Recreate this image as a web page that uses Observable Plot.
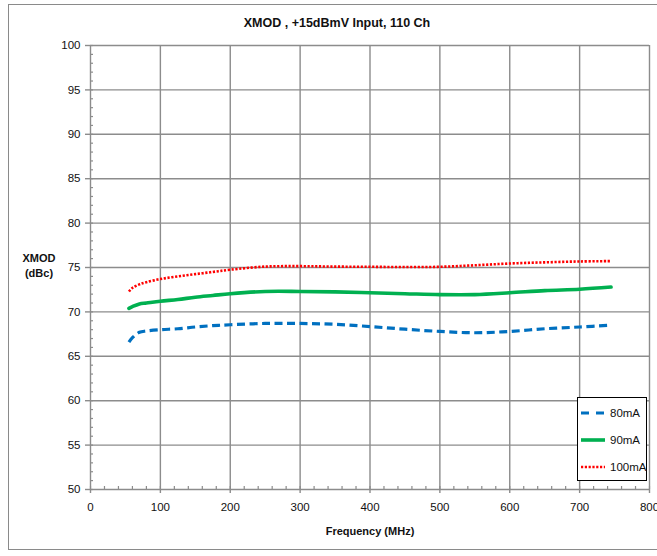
<!DOCTYPE html>
<html><head><meta charset="utf-8">
<script src="https://cdn.jsdelivr.net/npm/d3@7"></script>
<script src="https://cdn.jsdelivr.net/npm/@observablehq/plot@0.6"></script>
<style>
body{margin:0;background:#fff;font-family:"Liberation Sans Narrow","Liberation Sans",Arial,sans-serif;}
#wrap{position:relative;width:657px;height:556px;overflow:hidden;}
#frame{position:absolute;left:8px;top:4px;width:660px;height:546px;border:1.5px solid #8a8a8a;box-sizing:border-box;}
#title{position:absolute;left:0;width:674px;top:16px;text-align:center;font-weight:bold;font-size:12.5px;color:#111;}
#ylab{position:absolute;left:20px;width:38px;top:251px;text-align:center;font-weight:bold;font-size:11px;line-height:15px;color:#111;}
#xlab{position:absolute;left:90px;width:560px;top:525px;text-align:center;font-weight:bold;font-size:11px;color:#111;}
#chart{position:absolute;left:0;top:0;}
#legend{position:absolute;left:577px;top:397px;width:70px;height:84px;border:1.5px solid #000;background:#fff;box-sizing:border-box;}
.li{position:absolute;left:0;font-size:11.5px;color:#111;}
.li svg{position:absolute;left:2px;top:0;}
.li span{position:absolute;left:32px;top:1px;}
</style></head>
<body>
<div id="wrap">
  <div id="frame"></div>
  <div id="chart"></div>
  <div id="title">XMOD , +15dBmV Input, 110 Ch</div>
  <div id="ylab">XMOD<br>(dBc)</div>
  <div id="xlab">Frequency (MHz)</div>
  <div id="legend"></div>
</div>
<script>
const freq = [55, 60, 70, 80, 100, 125, 150, 175, 200, 250, 300, 350, 400, 450, 500, 550, 600, 650, 700, 745];
const mA80 = [66.6, 67.1, 67.7, 67.85, 68.0, 68.1, 68.3, 68.45, 68.55, 68.7, 68.7, 68.6, 68.35, 68.05, 67.8, 67.65, 67.8, 68.1, 68.3, 68.5];
const mA90 = [70.4, 70.6, 70.9, 71.0, 71.2, 71.4, 71.65, 71.85, 72.05, 72.3, 72.3, 72.25, 72.15, 72.05, 71.95, 71.95, 72.15, 72.4, 72.55, 72.8];
const mA100 = [72.3, 72.7, 73.1, 73.35, 73.7, 74.0, 74.25, 74.5, 74.75, 75.1, 75.15, 75.1, 75.08, 75.05, 75.08, 75.25, 75.45, 75.58, 75.68, 75.72];
const seriesNames = ["80mA", "90mA", "100mA"];
const xTicks = [0, 100, 200, 300, 400, 500, 600, 700, 800];
const yTicks = [50, 55, 60, 65, 70, 75, 80, 85, 90, 95, 100];

const colors = {"80mA": "#0070C0", "90mA": "#00B050", "100mA": "#FF0000"};
const styles = {
  "80mA": {strokeWidth: 3.2, strokeDasharray: "8,4.5", strokeLinecap: "butt"},
  "90mA": {strokeWidth: 3.6, strokeLinecap: "round"},
  "100mA": {strokeWidth: 2.6, strokeDasharray: "2.2,1.6", strokeLinecap: "butt"}
};
const valuesBy = {"80mA": mA80, "90mA": mA90, "100mA": mA100};
const rows = name => freq.map((f, i) => ({f, v: valuesBy[name][i], s: name}));

const xMinor = d3.range(0, 801, 20);
const yMinor = d3.range(50, 101, 1);
const grid = "#8c8c8c";

const lineMarks = seriesNames.map(n => Plot.line(rows(n), {
  x: "f", y: "v", stroke: colors[n], curve: "catmull-rom", ...styles[n]
}));

const chart = Plot.plot({
  width: 657, height: 556,
  marginLeft: 90, marginRight: 8, marginTop: 45, marginBottom: 67,
  style: {fontFamily: '"Liberation Sans Narrow","Liberation Sans",Arial,sans-serif', fontSize: "11.5px", color: "#111", background: "transparent"},
  x: {domain: [0, 800], label: null},
  y: {domain: [50, 100], label: null},
  marks: [
    Plot.ruleX(xTicks, {stroke: grid, strokeWidth: 1.4}),
    Plot.ruleY(yTicks, {stroke: grid, strokeWidth: 1.4}),
    Plot.axisX({ticks: xMinor, tickSize: -3, text: null, stroke: grid, strokeWidth: 1.2}),
    Plot.axisY({ticks: yMinor, tickSize: -3, text: null, stroke: grid, strokeWidth: 1.2}),
    Plot.axisX({ticks: xTicks, tickSize: 4, tickPadding: 9, stroke: grid, strokeWidth: 1.4, label: null, tickFormat: d => String(d)}),
    Plot.axisY({ticks: yTicks, tickSize: 5, tickPadding: 5, stroke: grid, strokeWidth: 1.4, label: null, tickFormat: d => String(d)}),
    ...lineMarks
  ]
});
document.getElementById("chart").appendChild(chart);

// legend
const leg = document.getElementById("legend");
const legTops = [8, 35, 62];
seriesNames.forEach((n, i) => {
  const d = document.createElement("div");
  d.className = "li";
  d.style.top = legTops[i] + "px";
  const st = styles[n];
  d.innerHTML = `<svg width="26" height="14"><line x1="1" x2="25" y1="7" y2="7" stroke="${colors[n]}" stroke-width="${st.strokeWidth}" ${st.strokeDasharray ? `stroke-dasharray="${n === "80mA" ? "8,7" : "2.2,1.6"}"` : ""} stroke-linecap="butt"/></svg><span>${n}</span>`;
  leg.appendChild(d);
});
</script>
</body></html>
